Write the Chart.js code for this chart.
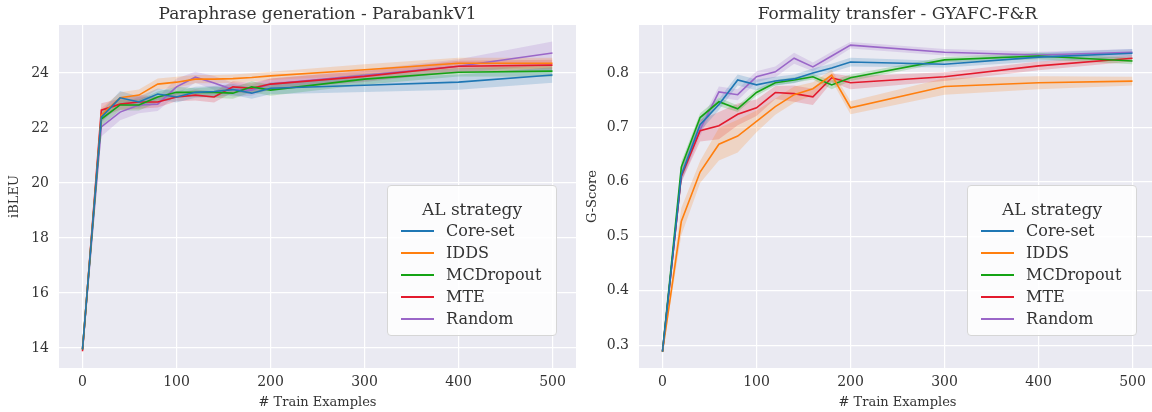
<!DOCTYPE html>
<html>
<head>
<meta charset="utf-8">
<script src="https://cdn.jsdelivr.net/npm/chart.js@4.4.1/dist/chart.umd.min.js"></script>
<style>
html, body { margin: 0; padding: 0; background: #fff; width: 1152px; height: 412px; overflow: hidden; }
.panel { position: absolute; top: 0; height: 412px; }
.legend {
  position: absolute; top: 185px; width: 170px; height: 151px; box-sizing: border-box;
  background: rgba(255,255,255,0.85); border: 1px solid #d6d6d6; border-radius: 4px;
  font-family: "DejaVu Serif", serif; color: #333; padding-top: 12px;
}
.legend .ttl { text-align: center; font-size: 17px; line-height: 22px; }
.legend .row { position: relative; height: 22px; line-height: 22px; font-size: 16px; padding-left: 58px; }
.legend .row i { position: absolute; left: 13px; top: 10px; width: 33px; height: 2px; }
</style>
</head>
<body>
<div class="panel" style="left:0;width:580px"><canvas id="left"></canvas></div>
<div class="panel" style="left:580px;width:576px"><canvas id="right"></canvas></div>
<div class="legend" id="legLeft" style="left:387px"></div>
<div class="legend" id="legRight" style="left:967px"></div>
<script>
// 학습 예제 개수 (x축)
var trainSizes = [0, 20, 40, 60, 80, 100, 120, 140, 160, 180, 200, 300, 400, 500];
var strategies = ['Core-set', 'IDDS', 'MCDropout', 'MTE', 'Random'];
var colors = ['#1f77b4', '#ff7f0e', '#14a314', '#e31a2d', '#9a66c8'];

// 왼쪽: iBLEU 평균
var bleuCoreset  = [13.95, 22.40, 23.10, 22.95, 23.24, 23.13, 23.30, 23.33, 23.40, 23.27, 23.45, 23.56, 23.67, 23.93];
var bleuIdds     = [13.95, 22.47, 23.10, 23.20, 23.60, 23.67, 23.78, 23.78, 23.80, 23.84, 23.90, 24.12, 24.36, 24.36];
var bleuMcd      = [13.95, 22.33, 22.84, 22.84, 23.13, 23.30, 23.30, 23.30, 23.27, 23.50, 23.38, 23.78, 24.03, 24.07];
var bleuMte      = [13.88, 22.65, 22.87, 22.95, 22.95, 23.13, 23.20, 23.13, 23.50, 23.45, 23.60, 23.88, 24.25, 24.29];
var bleuRandom   = [13.95, 22.04, 22.58, 22.84, 22.87, 23.50, 23.85, 23.64, 23.40, 23.38, 23.60, 23.92, 24.25, 24.73];
// 왼쪽: 신뢰구간 반폭
var bleuCiCoreset = [0.10, 0.20, 0.25, 0.20, 0.20, 0.20, 0.20, 0.20, 0.20, 0.20, 0.22, 0.25, 0.28, 0.28];
var bleuCiIdds    = [0.10, 0.25, 0.20, 0.20, 0.20, 0.20, 0.15, 0.15, 0.15, 0.15, 0.15, 0.20, 0.20, 0.20];
var bleuCiMcd     = [0.10, 0.25, 0.20, 0.20, 0.20, 0.20, 0.15, 0.20, 0.20, 0.20, 0.20, 0.20, 0.15, 0.20];
var bleuCiMte     = [0.10, 0.25, 0.20, 0.25, 0.20, 0.15, 0.20, 0.20, 0.20, 0.20, 0.20, 0.20, 0.20, 0.20];
var bleuCiRandom  = [0.10, 0.35, 0.30, 0.30, 0.25, 0.30, 0.20, 0.25, 0.25, 0.20, 0.20, 0.20, 0.25, 0.42];

// 오른쪽: G-Score 평균
var gCoreset = [0.288, 0.612, 0.705, 0.742, 0.787, 0.778, 0.785, 0.789, 0.800, 0.809, 0.820, 0.816, 0.829, 0.836];
var gIdds    = [0.288, 0.527, 0.618, 0.669, 0.684, 0.711, 0.738, 0.760, 0.771, 0.796, 0.736, 0.775, 0.782, 0.785];
var gMcd     = [0.288, 0.627, 0.718, 0.747, 0.734, 0.764, 0.782, 0.787, 0.793, 0.778, 0.791, 0.824, 0.831, 0.822];
var gMte     = [0.288, 0.610, 0.694, 0.703, 0.724, 0.736, 0.764, 0.762, 0.756, 0.791, 0.782, 0.793, 0.813, 0.827];
var gRandom  = [0.288, 0.612, 0.696, 0.765, 0.760, 0.793, 0.802, 0.827, 0.811, 0.831, 0.851, 0.838, 0.833, 0.838];
// 오른쪽: 신뢰구간 반폭
var gCiCoreset = [0.003, 0.012, 0.012, 0.010, 0.010, 0.010, 0.008, 0.008, 0.008, 0.008, 0.008, 0.006, 0.008, 0.008];
var gCiIdds    = [0.003, 0.025, 0.020, 0.030, 0.030, 0.020, 0.015, 0.015, 0.012, 0.010, 0.012, 0.015, 0.012, 0.008];
var gCiMcd     = [0.003, 0.010, 0.008, 0.008, 0.006, 0.006, 0.005, 0.005, 0.005, 0.008, 0.006, 0.005, 0.006, 0.006];
var gCiMte     = [0.003, 0.010, 0.020, 0.025, 0.020, 0.015, 0.012, 0.015, 0.015, 0.008, 0.012, 0.008, 0.008, 0.006];
var gCiRandom  = [0.003, 0.015, 0.012, 0.010, 0.010, 0.010, 0.010, 0.010, 0.008, 0.008, 0.006, 0.006, 0.006, 0.006];

// 눈금
var xTicks = [0, 100, 200, 300, 400, 500];
var bleuTicks = [14, 16, 18, 20, 22, 24];
var gTicks = [0.3, 0.4, 0.5, 0.6, 0.7, 0.8];

var FONT = '"DejaVu Serif", serif';
var TEXT = '#333';

function rgba(hex, a) {
  var n = parseInt(hex.slice(1), 16);
  return 'rgba(' + (n >> 16) + ',' + ((n >> 8) & 255) + ',' + (n & 255) + ',' + a + ')';
}

function pts(vals, off, sign) {
  return trainSizes.map(function (x, i) {
    return { x: x, y: vals[i] + (off ? sign * off[i] : 0) };
  });
}

function buildDatasets(means, cis) {
  var sets = [];
  means.forEach(function (m, k) {
    // 신뢰구간 아래/위
    sets.push({ data: pts(m, cis[k], -1), borderWidth: 0, pointRadius: 0, fill: false, order: 1 });
    sets.push({ data: pts(m, cis[k], 1), borderWidth: 0, pointRadius: 0, fill: '-1',
      backgroundColor: rgba(colors[k], 0.2), order: 1 });
  });
  means.forEach(function (m, k) {
    sets.push({ label: strategies[k], data: pts(m), borderColor: colors[k], borderWidth: 1.6,
      pointRadius: 0, fill: false, order: 0 });
  });
  return sets;
}

// 차트 영역 배경 + 제목을 차트 영역 중앙에
var bgPlugin = {
  id: 'bg',
  afterLayout: function (chart) {
    var t = chart.titleBlock, a = chart.chartArea;
    if (t) { t.left = a.left; t.right = a.right; t.width = a.right - a.left; }
  },
  beforeDraw: function (chart) {
    var a = chart.chartArea, c = chart.ctx;
    c.save();
    c.fillStyle = '#eaeaf2';
    c.fillRect(a.left, a.top, a.right - a.left, a.bottom - a.top);
    c.restore();
  }
};

function makeChart(id, opts) {
  return new Chart(document.getElementById(id), {
    type: 'line',
    data: { datasets: buildDatasets(opts.means, opts.cis) },
    plugins: [bgPlugin],
    options: {
      responsive: true,
      maintainAspectRatio: false,
      animation: false,
      layout: { padding: { left: 0, right: opts.padRight, top: 0, bottom: 0 } },
      plugins: {
        legend: { display: false },
        tooltip: { enabled: false },
        title: {
          display: true, text: opts.title, color: TEXT,
          font: { family: FONT, size: 17, weight: 'normal' },
          padding: { top: 4.6, bottom: 0 }
        }
      },
      scales: {
        x: {
          type: 'linear', min: -25, max: 525,
          afterBuildTicks: function (ax) { ax.ticks = xTicks.map(function (v) { return { value: v }; }); },
          afterFit: function (ax) { ax.height = 44; },
          grid: { color: '#fff', lineWidth: 1.2, drawTicks: false },
          border: { display: false },
          ticks: { color: TEXT, font: { family: FONT, size: 14 }, padding: 6, maxRotation: 0 },
          title: { display: true, text: '# Train Examples', color: TEXT,
            font: { family: FONT, size: 13 }, padding: { top: 0, bottom: 2 } }
        },
        y: {
          min: opts.yMin, max: opts.yMax,
          afterBuildTicks: function (ax) { ax.ticks = opts.yTicks.map(function (v) { return { value: v }; }); },
          afterFit: function (ax) { ax.width = 59; },
          grid: { color: '#fff', lineWidth: 1.2, drawTicks: false },
          border: { display: false },
          ticks: { color: TEXT, font: { family: FONT, size: 14 }, padding: 10,
            callback: opts.fmt },
          title: { display: true, text: opts.yTitle, color: TEXT,
            font: { family: FONT, size: 13 }, padding: { top: opts.yTitlePad, bottom: 0 } }
        }
      }
    }
  });
}

makeChart('left', {
  title: 'Paraphrase generation - ParabankV1',
  yTitle: 'iBLEU', yTitlePad: 7, padRight: 4,
  yMin: 13.27, yMax: 25.75, yTicks: bleuTicks,
  fmt: function (v) { return String(v); },
  means: [bleuCoreset, bleuIdds, bleuMcd, bleuMte, bleuRandom],
  cis: [bleuCiCoreset, bleuCiIdds, bleuCiMcd, bleuCiMte, bleuCiRandom]
});

makeChart('right', {
  title: 'Formality transfer - GYAFC-F&R',
  yTitle: 'G-Score', yTitlePad: 5, padRight: 0,
  yMin: 0.258, yMax: 0.888, yTicks: gTicks,
  fmt: function (v) { return v.toFixed(1); },
  means: [gCoreset, gIdds, gMcd, gMte, gRandom],
  cis: [gCiCoreset, gCiIdds, gCiMcd, gCiMte, gCiRandom]
});

// 범례 (HTML)
['legLeft', 'legRight'].forEach(function (id) {
  var box = document.getElementById(id);
  var html = '<div class="ttl">AL strategy</div>';
  strategies.forEach(function (s, k) {
    html += '<div class="row"><i style="background:' + colors[k] + '"></i>' + s + '</div>';
  });
  box.innerHTML = html;
});
</script>
</body>
</html>
